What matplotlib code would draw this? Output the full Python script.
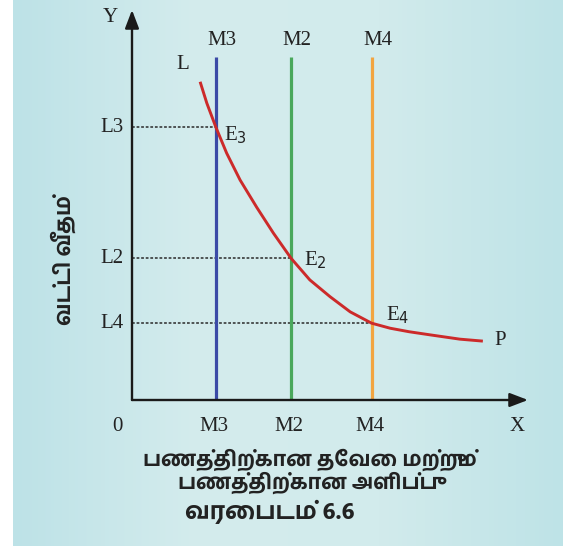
import numpy as np
import matplotlib
matplotlib.use("Agg")
import matplotlib.pyplot as plt
from matplotlib.colors import LinearSegmentedColormap

# money supply lines (x positions) and the rates where they meet the curve
supply_names = ["M3", "M2", "M4"]
supply_x = [2.12, 4.02, 6.05]
supply_colors = ["#3b4aa6", "#4aa85c", "#f2a541"]
rate_names = ["L3", "L2", "L4"]
rate_y = [6.99, 3.63, 1.97]
point_names = ["E$_3$", "E$_2$", "E$_4$"]

# liquidity preference curve LP
curve_x = [1.72, 1.89, 2.12, 2.39, 2.73, 3.15, 3.57, 4.02, 4.49, 5.0, 5.51, 6.05, 6.52, 7.0, 7.53, 8.28, 8.86]
curve_y = [8.16, 7.61, 6.99, 6.33, 5.64, 4.94, 4.28, 3.63, 3.08, 2.65, 2.26, 1.97, 1.84, 1.75, 1.67, 1.56, 1.51]
line_top = 8.79

x_title = ["பணத்திற்கான தேவை மற்றும்", "பணத்திற்கான அளிப்பு"]
y_title = "வட்டி வீதம்"
fig_title = "வரைபடம் 6.6"

W, H = 563, 554
serif = "Liberation Serif"
tamil = ["Hind Madurai", "DejaVu Sans"]
ink = "#222222"
fs = 15

fig = plt.figure(figsize=(W / 100, H / 100), dpi=100, facecolor="white")

# light cyan panel, a bit paler in the middle
bg = fig.add_axes([13 / W, 8 / H, 550 / W, 546 / H])
cmap = LinearSegmentedColormap.from_list("panel", ["#bde2e7", "#d4eced", "#d2ebec", "#bee3e7"])
bg.imshow(np.linspace(0, 1, 256).reshape(1, -1), cmap=cmap, aspect="auto", extent=[0, 1, 0, 1])
bg.axis("off")

ax = fig.add_axes([132 / W, 154 / H, 396 / W, 390 / H])
ax.set_xlim(0, 10)
ax.set_ylim(0, 10)
ax.axis("off")
ax.patch.set_alpha(0)

# axes with arrow heads
arrow = dict(arrowstyle="-|>,head_length=1.1,head_width=0.42", color="#1a1a1a", lw=1.7, shrinkA=0, shrinkB=0)
ax.annotate("", xy=(10, 0), xytext=(0, 0), arrowprops=arrow, annotation_clip=False)
ax.annotate("", xy=(0, 10), xytext=(0, 0), arrowprops=arrow, annotation_clip=False)

for name, x, c in zip(supply_names, supply_x, supply_colors):
    ax.plot([x, x], [0, line_top], color=c, lw=2.3, solid_capstyle="butt", zorder=2)
    ax.text(x + 0.15, 9.23, name, family=serif, fontsize=fs, color=ink, ha="center", va="center")
    ax.text(x - 0.05, -0.69, name, family=serif, fontsize=fs, color=ink, ha="center", va="center", clip_on=False)

for name, y, x in zip(rate_names, rate_y, supply_x):
    ax.plot([0, x], [y, y], color="#2a2a2a", lw=1.1, ls=(0, (1.8, 1.2)), zorder=1)
    ax.text(-0.5, y, name, family=serif, fontsize=fs, color=ink, ha="center", va="center", clip_on=False)

ax.plot(curve_x, curve_y, color="#cc2a2a", lw=2.1, solid_joinstyle="round", solid_capstyle="butt", zorder=3)

# point labels
ax.text(2.32, 6.8, point_names[0], family=serif, fontsize=fs, color=ink, ha="left", va="center")
ax.text(4.35, 3.58, point_names[1], family=serif, fontsize=fs, color=ink, ha="left", va="center")
ax.text(6.42, 2.18, point_names[2], family=serif, fontsize=fs, color=ink, ha="left", va="center")
ax.text(1.28, 8.6, "L", family=serif, fontsize=fs, color=ink, ha="center", va="center")
ax.text(9.14, 1.53, "P", family=serif, fontsize=fs, color=ink, ha="left", va="center")
ax.text(-0.55, 9.82, "Y", family=serif, fontsize=fs, color=ink, ha="center", va="center", clip_on=False)
ax.text(9.73, -0.69, "X", family=serif, fontsize=fs, color=ink, ha="center", va="center", clip_on=False)
ax.text(-0.36, -0.69, "0", family=serif, fontsize=fs, color=ink, ha="center", va="center", clip_on=False)

fig.text(310 / W, 1 - 460 / H, x_title[0], family=tamil, fontsize=15, fontweight="bold", color=ink, ha="center", va="center")
fig.text(308 / W, 1 - 483 / H, x_title[1], family=tamil, fontsize=15, fontweight="bold", color=ink, ha="center", va="center")
fig.text(63 / W, 1 - 260 / H, y_title, family=tamil, fontsize=15.5, fontweight="bold", color=ink, ha="center", va="center", rotation=90)
fig.text(270 / W, 1 - 512 / H, fig_title, family=tamil, fontsize=17, fontweight="bold", color=ink, ha="center", va="center")

fig.savefig("out.png", dpi=100, facecolor=fig.get_facecolor())
